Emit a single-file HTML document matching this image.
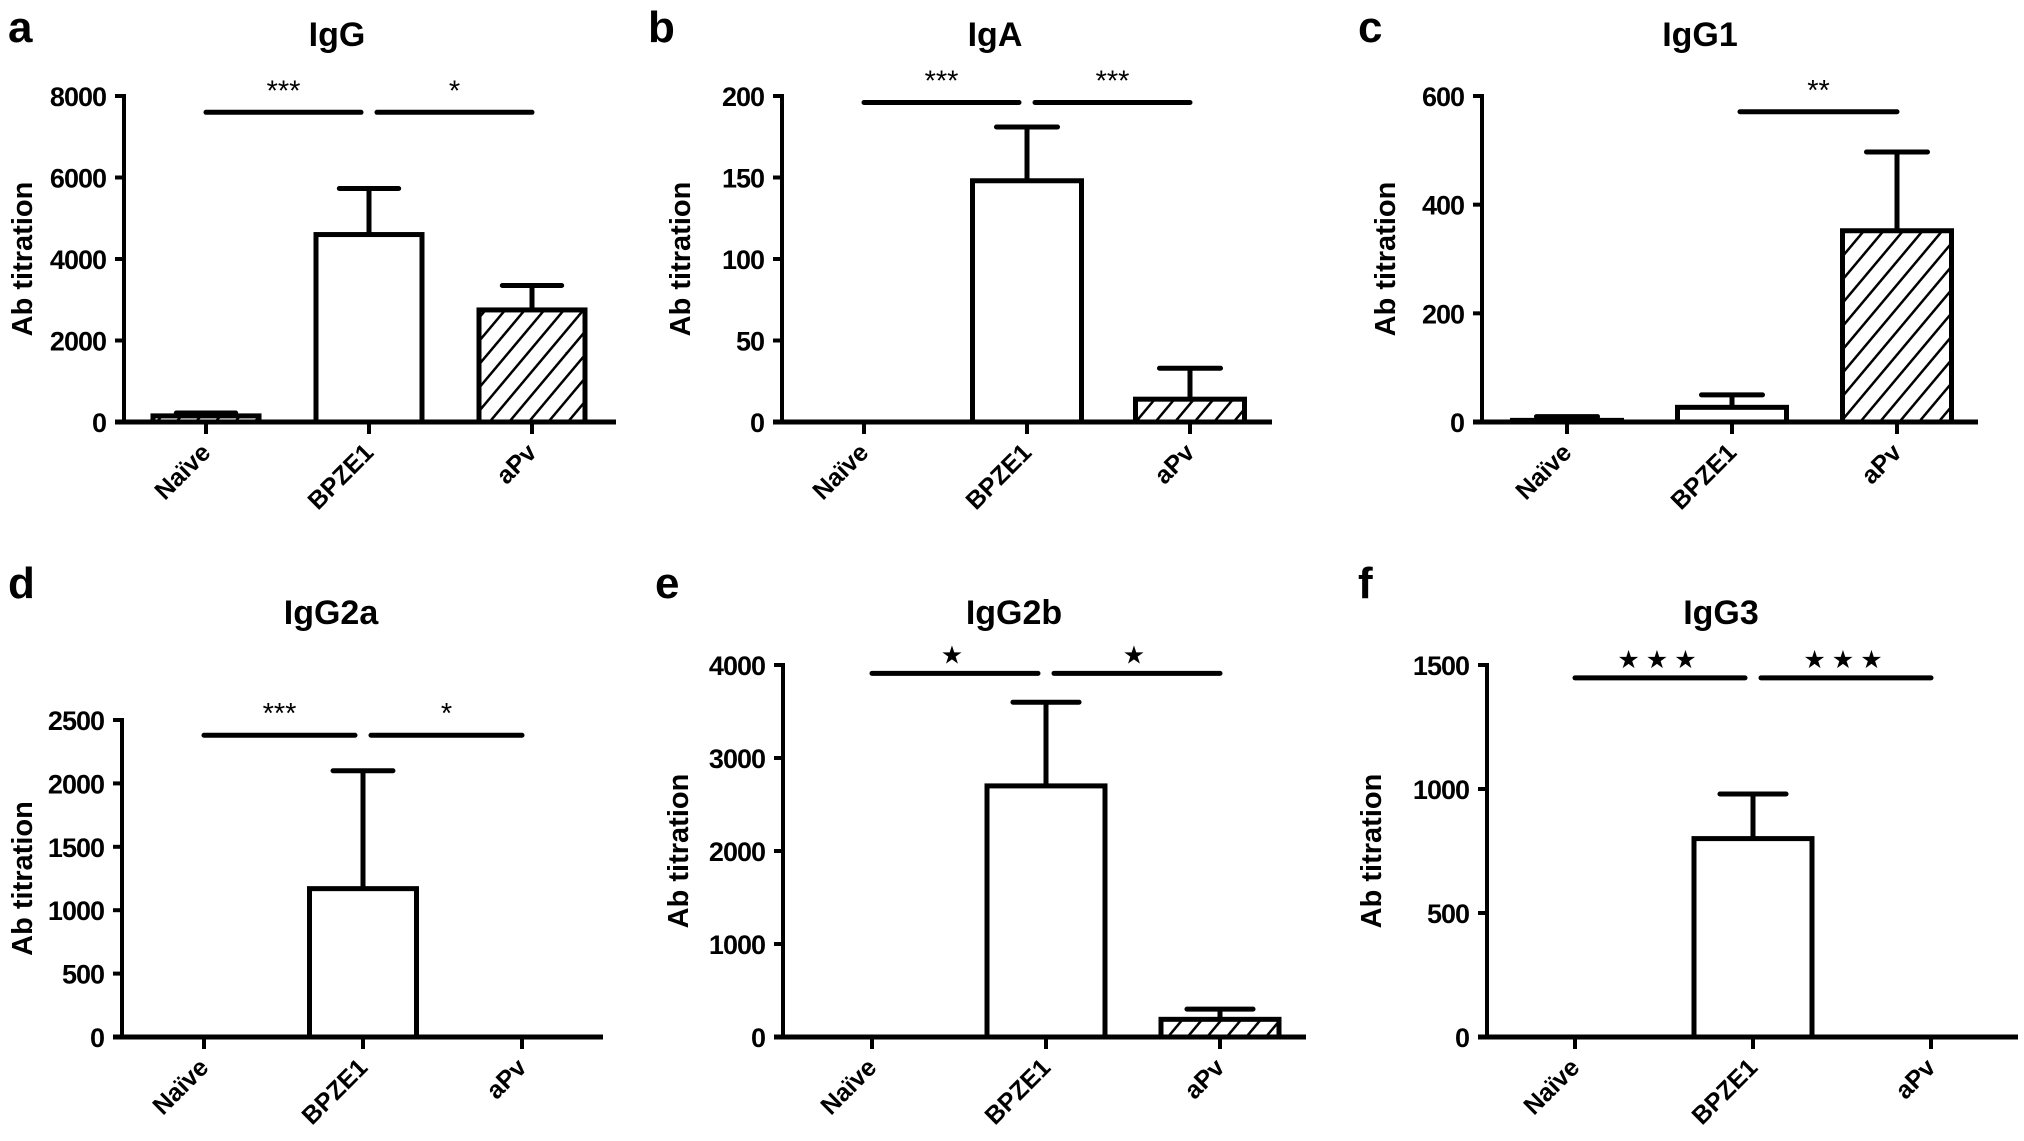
<!DOCTYPE html>
<html><head><meta charset="utf-8"><style>
html,body{margin:0;padding:0;background:#fff;}
svg{display:block;font-family:"Liberation Sans",Arial,sans-serif;font-weight:bold;}
</style></head><body>
<svg id="fig" width="2024" height="1141" viewBox="0 0 2024 1141" xmlns="http://www.w3.org/2000/svg">
<defs>
<pattern id="hatch" patternUnits="userSpaceOnUse" width="15" height="15" patternTransform="rotate(40)">
<rect width="15" height="15" fill="#fff"/>
<line x1="0" y1="0" x2="0" y2="15" stroke="#000" stroke-width="5"/>
</pattern>
</defs>
</svg>
<script>
const categories = ["Naïve", "BPZE1", "aPv"];
const titles = ["IgG", "IgA", "IgG1", "IgG2a", "IgG2b", "IgG3"];
const panelLetters = ["a", "b", "c", "d", "e", "f"];
const yMax = [8000, 200, 600, 2500, 4000, 1500];
const yTickLabels = [
  [0, 2000, 4000, 6000, 8000],
  [0, 50, 100, 150, 200],
  [0, 200, 400, 600],
  [0, 500, 1000, 1500, 2000, 2500],
  [0, 1000, 2000, 3000, 4000],
  [0, 500, 1000, 1500]
];
const meanIgG = [150, 4600, 2750];
const errIgG = [220, 5730, 3350];
const meanIgA = [0, 148, 14];
const errIgA = [0, 181, 33];
const meanIgG1 = [3, 27, 352];
const errIgG1 = [10, 50, 497];
const meanIgG2a = [0, 1170, 0];
const errIgG2a = [0, 2100, 0];
const meanIgG2b = [0, 2700, 190];
const errIgG2b = [0, 3600, 300];
const meanIgG3 = [0, 800, 0];
const errIgG3 = [0, 980, 0];
const sigValue = [7600, 196, 571, 2380, 3910, 1448];
// significance comparisons: [fromCategory, toCategory, label]
const sigIgG = [[0, 1, "***"], [1, 2, "*"]];
const sigIgA = [[0, 1, "***"], [1, 2, "***"]];
const sigIgG1 = [[1, 2, "**"]];
const sigIgG2a = [[0, 1, "***"], [1, 2, "*"]];
const sigIgG2b = [[0, 1, "★"], [1, 2, "★"]];
const sigIgG3 = [[0, 1, "★★★"], [1, 2, "★★★"]];

const means = [meanIgG, meanIgA, meanIgG1, meanIgG2a, meanIgG2b, meanIgG3];
const errs = [errIgG, errIgA, errIgG1, errIgG2a, errIgG2b, errIgG3];
const sigs = [sigIgG, sigIgA, sigIgG1, sigIgG2a, sigIgG2b, sigIgG3];

// layout (pixels)
const layout = [
  {ax:124, y0:422, top:96, off:82, sp:163, bw:106, xs:115, xe:616, lx:8, ly:42, ty:46, yl:22},
  {ax:782, y0:422, top:96, off:82, sp:163, bw:109, xs:773, xe:1272, lx:648, ly:42, ty:46, yl:680},
  {ax:1482, y0:422, top:96, off:85, sp:165, bw:109, xs:1473, xe:1978, lx:1358, ly:42, ty:46, yl:1385},
  {ax:122, y0:1037, top:720, off:82, sp:159, bw:107, xs:113, xe:603, lx:8, ly:598, ty:624, yl:22},
  {ax:783, y0:1037, top:665, off:89, sp:174, bw:118, xs:774, xe:1306, lx:655, ly:598, ty:624, yl:678},
  {ax:1487, y0:1037, top:665, off:88, sp:178, bw:118, xs:1478, xe:2018, lx:1358, ly:598, ty:624, yl:1371}
];

const svg = document.getElementById('fig');
const NS = 'http://www.w3.org/2000/svg';
function mk(tag, attrs, parent) {
  const e = document.createElementNS(NS, tag);
  for (const k in attrs) e.setAttribute(k, attrs[k]);
  (parent || svg).appendChild(e);
  return e;
}

for (let p = 0; p < 6; p++) {
  const L = layout[p];
  const g = mk('g', {});
  
  
  const yScale = v => L.y0 - (v / yMax[p]) * (L.y0 - L.top);
  const xScale = i => L.ax + L.off + i * L.sp;

  const letter = mk('text', {x:L.lx, y:L.ly, 'font-size':44}, g);
  letter.textContent = panelLetters[p];
  
  

  const title = mk('text', {x:xScale(1) - 32, y:L.ty, 'font-size':34, 'text-anchor':'middle'}, g);
  title.textContent = titles[p];
  
  

  const midY = (L.y0 + L.top) / 2;
  const yl = mk('text', {x:L.yl, y:midY, 'font-size':29, 'text-anchor':'middle', transform:'rotate(-90 ' + L.yl + ' ' + midY + ') translate(0 10)'}, g);
  yl.textContent = 'Ab titration';
  
  

  // bars
  for (let i = 0; i < 3; i++) {
    const v = means[p][i];
    const cx = xScale(i);
    if (errs[p][i] > v) {
      const ey = yScale(errs[p][i]);
      const el = mk('path', {d:'M' + cx + ' ' + yScale(v) + 'V' + ey + 'M' + (cx - L.bw * 0.28) + ' ' + ey + 'H' + (cx + L.bw * 0.28), stroke:'#000', 'stroke-width':5, 'stroke-linecap':'round', fill:'none'}, g);
      
      
    }
    if (v > 0) {
      const r = mk('rect', {x:cx - L.bw / 2, y:yScale(v), width:L.bw, height:L.y0 - yScale(v), fill:(i === 1 ? '#fff' : 'url(#hatch)'), stroke:'#000', 'stroke-width':5}, g);
      
      
    }
  }

  // axes
  const yax = mk('line', {x1:L.ax, y1:L.top - 2, x2:L.ax, y2:L.y0, stroke:'#000', 'stroke-width':4}, g);
  
  
  const xax = mk('line', {x1:L.xs, y1:L.y0, x2:L.xe, y2:L.y0, stroke:'#000', 'stroke-width':5}, g);
  
  

  yTickLabels[p].forEach(t => {
    const y = yScale(t);
    mk('line', {x1:L.ax - 9, y1:y, x2:L.ax, y2:y, stroke:'#000', 'stroke-width':4}, g);
    const tl = mk('text', {x:L.ax - 18, y:y + 10, 'font-size':27, 'text-anchor':'end', 'letter-spacing':-1}, g);
    tl.textContent = t;
    
    
  });
  categories.forEach((c, i) => {
    const x = xScale(i);
    mk('line', {x1:x, y1:L.y0, x2:x, y2:L.y0 + 12, stroke:'#000', 'stroke-width':4}, g);
    const tx = x + 6, ty = L.y0 + 32;
    const cl = mk('text', {x:tx, y:ty, 'font-size':25, 'text-anchor':'end', transform:'rotate(-45 ' + tx + ' ' + ty + ')'}, g);
    cl.textContent = c;
    
    
  });

  // significance
  const sy = yScale(sigValue[p]);
  sigs[p].forEach(s => {
    const a = xScale(s[0]) + (s[0] === 1 ? 8 : 0);
    const b = xScale(s[1]) - (s[1] === 1 ? 8 : 0);
    const sl = mk('line', {x1:a, y1:sy, x2:b, y2:sy, stroke:'#000', 'stroke-width':5, 'stroke-linecap':'round'}, g);
    
    
    const star = s[2].indexOf('★') >= 0;
    const st = mk('text', {x:(a + b) / 2, y:sy - (star ? 10 : 12), 'font-size':(star ? 25 : 29), 'font-weight':'normal', 'text-anchor':'middle', 'letter-spacing':(star ? 6 : 0)}, g);
    st.textContent = s[2];
    
    
  });
}
</script>
</body></html>
